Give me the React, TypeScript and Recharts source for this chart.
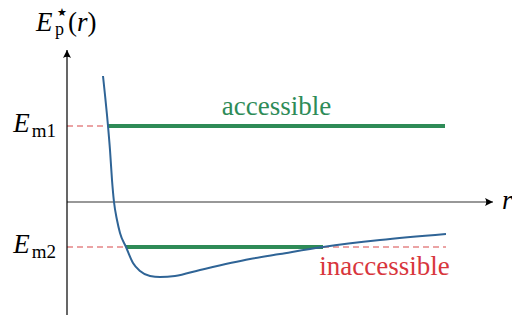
import { LineChart, Line, XAxis, YAxis, ReferenceLine, ReferenceDot } from "recharts";

// potential curve E_p*(r) (arbitrary units)
const R = [0.36, 0.38, 0.4, 0.41, 0.43, 0.45, 0.47, 0.5, 0.53, 0.59, 0.66, 0.73, 0.83, 0.93, 1.08, 1.33, 1.83, 2.13, 2.56, 3.13, 3.79];
const EP = [3.15, 2.675, 2.175, 1.9, 1.3, 0.55, 0, -0.45, -0.775, -1.125, -1.525, -1.725, -1.85, -1.875, -1.85, -1.7, -1.425, -1.3, -1.125, -0.95, -0.8];

// mechanical energies and where they meet the curve
const EM1 = 1.9;
const EM2 = -1.125;
const EM1_START = 0.41;
const EM2_START = 0.59;
const EM2_END = 2.56;
const LINE_END = 3.78;
const DASH_END = 3.79;

const TICK_VALUES = [EM2, EM1];
const TICK_SUBS = ["m2", "m1"];

const X_MAX = 4.26;
const Y_MIN = -2.825;
const Y_MAX = 3.8;

const data = R.map((r, i) => ({ r, E: EP[i] }));

const SERIF = "Liberation Serif";
const GREEN = "#2e8b57";
const BLUE = "#2f6496";
const RED = "#d8484a";
const RED_TEXT = "#d8363c";

const EnergyTick = (props: any) => {
  const { x, y, payload } = props;
  const sub = TICK_SUBS[TICK_VALUES.indexOf(payload.value)];
  return (
    <text x={x} y={y} dy={6} textAnchor="end" fontFamily={SERIF} fontSize={27} fill="#000">
      <tspan fontStyle="italic">E</tspan>
      <tspan fontSize={19} dx={2} dy={5}>{sub}</tspan>
    </text>
  );
};

const ArrowRight = ({ cx, cy }: any) => (
  <path d={`M${cx},${cy} L${cx - 8},${cy - 4} Q${cx - 5.5},${cy} ${cx - 8},${cy + 4} Z`} fill="#000" />
);

const ArrowUp = ({ cx, cy }: any) => (
  <path d={`M${cx},${cy} L${cx - 4},${cy + 8} Q${cx},${cy + 5.5} ${cx + 4},${cy + 8} Z`} fill="#000" />
);

export default function App() {
  return (
    <div style={{ position: "absolute", left: 0, top: 0, background: "#fff" }}>
      <LineChart width={512} height={316} data={data} margin={{ top: 50, right: 19, bottom: 1, left: 0 }}>
        <XAxis dataKey="r" type="number" domain={[0, X_MAX]} hide allowDataOverflow />
        <YAxis
          type="number"
          domain={[Y_MIN, Y_MAX]}
          ticks={TICK_VALUES}
          width={67}
          allowDataOverflow
          axisLine={{ stroke: "#000", strokeWidth: 1.2 }}
          tickLine={false}
          tickSize={0}
          tickMargin={11}
          tick={<EnergyTick />}
        />
        <ReferenceLine y={0} stroke="#333" strokeWidth={1.2} />
        <ReferenceLine
          segment={[{ x: 0, y: EM1 }, { x: EM1_START, y: EM1 }]}
          stroke={RED}
          strokeDasharray="6 4"
          strokeWidth={1.2}
        />
        <ReferenceLine
          segment={[{ x: 0, y: EM2 }, { x: EM2_START, y: EM2 }]}
          stroke={RED}
          strokeDasharray="6 4"
          strokeWidth={1.2}
        />
        <ReferenceLine
          segment={[{ x: EM2_END, y: EM2 }, { x: DASH_END, y: EM2 }]}
          stroke={RED}
          strokeDasharray="6 4"
          strokeWidth={1.2}
          label={{ value: "inaccessible", position: "bottom", offset: 9, fill: RED_TEXT, fontSize: 27, fontFamily: SERIF }}
        />
        <ReferenceLine
          segment={[{ x: EM1_START, y: EM1 }, { x: LINE_END, y: EM1 }]}
          stroke={GREEN}
          strokeWidth={4}
          label={{ value: "accessible", position: "top", offset: 11, fill: GREEN, fontSize: 27, fontFamily: SERIF }}
        />
        <ReferenceLine
          segment={[{ x: EM2_START, y: EM2 }, { x: EM2_END, y: EM2 }]}
          stroke={GREEN}
          strokeWidth={4}
        />
        <ReferenceDot x={X_MAX} y={0} ifOverflow="visible" shape={<ArrowRight />} />
        <ReferenceDot x={0} y={Y_MAX} ifOverflow="visible" shape={<ArrowUp />} />
        <Line
          type="monotone"
          dataKey="E"
          stroke={BLUE}
          strokeWidth={2}
          dot={false}
          isAnimationActive={false}
        />
        <text fontFamily={SERIF} fontSize={27} fill="#000">
          <tspan x={36} y={31} fontStyle="italic">E</tspan>
          <tspan x={57} y={16} fontSize={11} fontFamily="DejaVu Sans">★</tspan>
          <tspan x={55} y={35} fontSize={18}>p</tspan>
          <tspan x={68} y={31}>(</tspan>
          <tspan fontStyle="italic">r</tspan>
          <tspan>)</tspan>
        </text>
        <text x={502} y={209} fontFamily={SERIF} fontSize={27} fontStyle="italic" fill="#000">
          r
        </text>
      </LineChart>
    </div>
  );
}
